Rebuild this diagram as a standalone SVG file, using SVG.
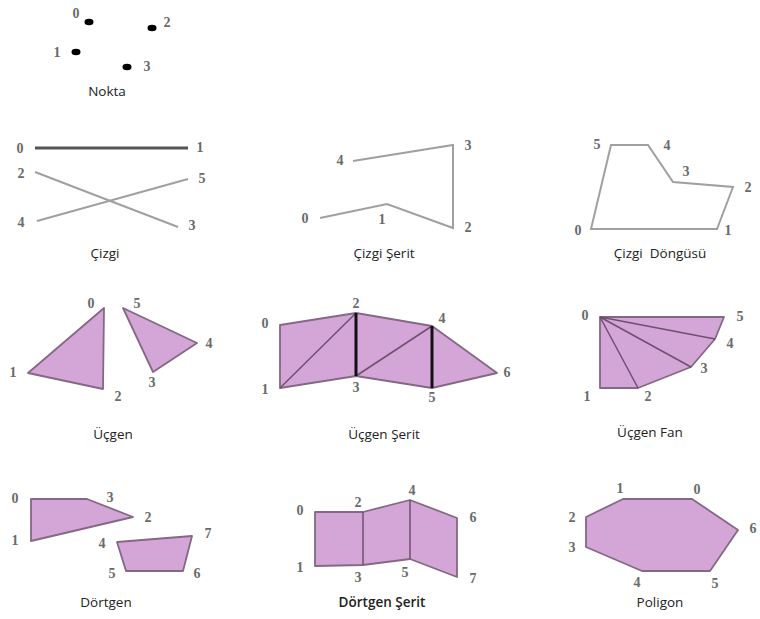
<svg xmlns="http://www.w3.org/2000/svg" width="760" height="619" viewBox="0 0 760 619">
<style>
.n{font-family:"Liberation Serif","DejaVu Serif",serif;font-weight:bold;font-size:14px;fill:#6a6a6a;text-anchor:middle;dominant-baseline:central}
.c{font-family:"Open Sans","Noto Sans",sans-serif;font-size:13.5px;fill:#222;text-anchor:middle}
.ln{fill:none;stroke:#a0a0a0;stroke-width:2;stroke-linejoin:miter}
.sh{fill:#d4a6d8;stroke:#846884;stroke-width:1.8;stroke-linejoin:round}
.in{stroke:#6e506e;stroke-width:1.5}
.bk{stroke:#111;stroke-width:3}
</style>
<rect width="760" height="619" fill="#fff"/>
<g id="nokta">
<ellipse cx="89" cy="22" rx="4.5" ry="3.3" fill="#000"/>
<ellipse cx="152" cy="28" rx="4.5" ry="3.3" fill="#000"/>
<ellipse cx="76" cy="52" rx="4.5" ry="3.3" fill="#000"/>
<ellipse cx="127" cy="67" rx="4.5" ry="3.3" fill="#000"/>
<text class="n" x="76" y="13">0</text><text class="n" x="167" y="22">2</text>
<text class="n" x="57" y="52">1</text><text class="n" x="147" y="66">3</text>
<text class="c" x="107" y="96">Nokta</text>
</g>
<g id="cizgi">
<line x1="35" y1="148" x2="188" y2="148" stroke="#555" stroke-width="3"/>
<line class="ln" x1="35" y1="172" x2="178" y2="227"/>
<line class="ln" x1="37" y1="221" x2="188" y2="179"/>
<text class="n" x="20" y="148">0</text><text class="n" x="200" y="147">1</text>
<text class="n" x="21" y="173">2</text><text class="n" x="202" y="178">5</text>
<text class="n" x="21" y="222">4</text><text class="n" x="192" y="225">3</text>
<text class="c" x="105" y="258">Çizgi</text>
</g>
<g id="cizgi-serit">
<polyline class="ln" points="320,218 387,204 453,228 453,145 353,161"/>
<text class="n" x="305" y="218">0</text><text class="n" x="382" y="219">1</text>
<text class="n" x="468" y="227">2</text><text class="n" x="468" y="145">3</text>
<text class="n" x="340" y="160">4</text>
<text class="c" x="384" y="258">Çizgi Şerit</text>
</g>
<g id="cizgi-dongusu">
<polygon class="ln" points="591,229 717,229 733,187 673,182 648,145 611,145"/>
<text class="n" x="578" y="230">0</text><text class="n" x="728" y="230">1</text>
<text class="n" x="748" y="187">2</text><text class="n" x="686" y="171">3</text>
<text class="n" x="667" y="145">4</text><text class="n" x="597" y="144">5</text>
<text class="c" x="660" y="258" xml:space="preserve">Çizgi  Döngüsü</text>
</g>
<g id="ucgen">
<polygon class="sh" points="104,308 28,373 103,389"/>
<polygon class="sh" points="123,308 197,343 153,372"/>
<text class="n" x="91" y="303">0</text><text class="n" x="13" y="372">1</text>
<text class="n" x="118" y="396">2</text><text class="n" x="137" y="303">5</text>
<text class="n" x="209" y="343">4</text><text class="n" x="152" y="382">3</text>
<text class="c" x="113" y="439">Üçgen</text>
</g>
<g id="ucgen-serit">
<polygon class="sh" points="280,325 356,313 432,326 497,373 432,388 356,376 280,388"/>
<line class="in" x1="280" y1="388" x2="356" y2="313"/>
<line class="in" x1="356" y1="376" x2="432" y2="326"/>
<line class="bk" x1="356" y1="313" x2="356" y2="376"/>
<line class="bk" x1="432" y1="326" x2="432" y2="388"/>
<text class="n" x="265" y="323">0</text><text class="n" x="265" y="389">1</text>
<text class="n" x="356" y="303">2</text><text class="n" x="356" y="387">3</text>
<text class="n" x="442" y="318">4</text><text class="n" x="432" y="397">5</text>
<text class="n" x="507" y="372">6</text>
<text class="c" x="384" y="439">Üçgen Şerit</text>
</g>
<g id="ucgen-fan">
<polygon class="sh" points="600,317 724,317 715,339 691,367 638,388 600,388"/>
<line class="in" x1="600" y1="317" x2="638" y2="388"/>
<line class="in" x1="600" y1="317" x2="691" y2="367"/>
<line class="in" x1="600" y1="317" x2="715" y2="339"/>
<text class="n" x="585" y="315">0</text><text class="n" x="587" y="396">1</text>
<text class="n" x="648" y="396">2</text><text class="n" x="704" y="368">3</text>
<text class="n" x="730" y="343">4</text><text class="n" x="740" y="316">5</text>
<text class="c" x="650" y="437">Üçgen Fan</text>
</g>
<g id="dortgen">
<polygon class="sh" points="31,499 87,499 133,517 31,541"/>
<polygon class="sh" points="117,542 192,536 183,571 126,571"/>
<text class="n" x="15" y="498">0</text><text class="n" x="110" y="497">3</text>
<text class="n" x="148" y="517">2</text><text class="n" x="15" y="540">1</text>
<text class="n" x="102" y="543">4</text><text class="n" x="208" y="533">7</text>
<text class="n" x="112" y="573">5</text><text class="n" x="197" y="573">6</text>
<text class="c" x="106" y="607">Dörtgen</text>
</g>
<g id="dortgen-serit">
<polygon class="sh" points="315,512 363,512 410,500 457,518 457,577 410,559 363,565 315,566"/>
<line class="in" x1="363" y1="512" x2="363" y2="565"/>
<line class="in" x1="410" y1="500" x2="410" y2="559"/>
<text class="n" x="300" y="510">0</text><text class="n" x="300" y="567">1</text>
<text class="n" x="358" y="502">2</text><text class="n" x="358" y="577">3</text>
<text class="n" x="412" y="490">4</text><text class="n" x="405" y="572">5</text>
<text class="n" x="473" y="517">6</text><text class="n" x="473" y="578">7</text>
<text class="c" x="382" y="607" font-weight="600">Dörtgen Şerit</text>
</g>
<g id="poligon">
<polygon class="sh" points="623,499 692,499 738,530 710,571 642,571 586,547 586,517"/>
<text class="n" x="620" y="488">1</text><text class="n" x="697" y="489">0</text>
<text class="n" x="753" y="528">6</text><text class="n" x="715" y="583">5</text>
<text class="n" x="637" y="582">4</text><text class="n" x="572" y="547">3</text>
<text class="n" x="572" y="517">2</text>
<text class="c" x="660" y="607">Poligon</text>
</g>
</svg>
